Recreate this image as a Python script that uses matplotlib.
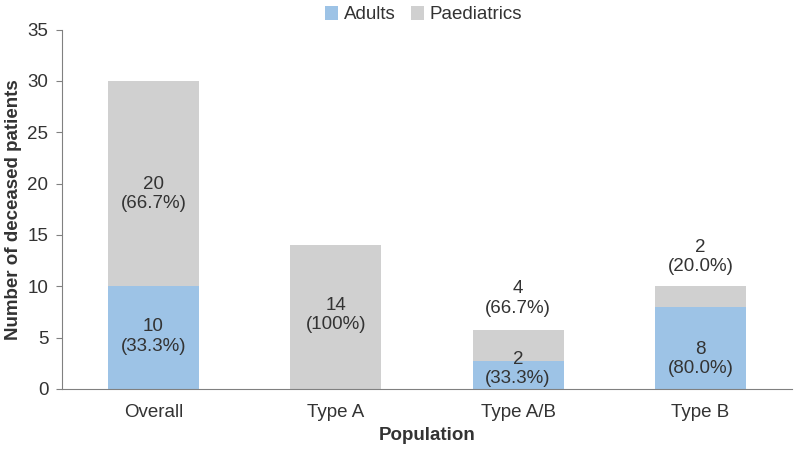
import matplotlib
matplotlib.use("Agg")
import matplotlib.pyplot as plt
from matplotlib import font_manager as fm

categories = ["Overall", "Type A", "Type A/B", "Type B"]
adults = [10, 0, 2.7, 8]          # bar heights as drawn
paediatrics = [20, 14, 3.05, 2]   # bar heights as drawn
adult_labels = ["10\n(33.3%)", None, "2\n(33.3%)", "8\n(80.0%)"]
paed_labels = ["20\n(66.7%)", "14\n(100%)", "4\n(66.7%)", "2\n(20.0%)"]
adult_label_y = [5.1, None, 1.95, 2.9]
paed_label_y = [19.0, 7.2, 8.8, 12.85]

names = {f.name for f in fm.fontManager.ttflist}
narrow = "Liberation Sans Narrow" if "Liberation Sans Narrow" in names else "Liberation Sans"

blue = "#9DC3E6"
grey = "#D0D0D0"
txt = "#333333"
fs = 13.5

fig = plt.figure(figsize=(7.98, 4.49), dpi=100)
ax = fig.add_axes([0.078, 0.134, 0.914, 0.8])

x = list(range(len(categories)))
b1 = ax.bar(x, adults, width=0.5, color=blue, label="Adults")
b2 = ax.bar(x, paediatrics, width=0.5, bottom=adults, color=grey, label="Paediatrics")

for i in x:
    if adult_labels[i]:
        ax.text(i, adult_label_y[i], adult_labels[i], ha="center", va="center",
                fontsize=fs, family=narrow, color=txt, linespacing=1.2)
    ax.text(i, paed_label_y[i], paed_labels[i], ha="center", va="center",
            fontsize=fs, family=narrow, color=txt, linespacing=1.2)

ax.set_xlim(-0.5, 3.5)
ax.set_ylim(0, 35)
ax.set_yticks(range(0, 36, 5))
ax.set_xticks(x)
ax.set_xticklabels(categories)
for lab in ax.get_xticklabels() + ax.get_yticklabels():
    lab.set_fontfamily(narrow)
    lab.set_fontsize(fs)
    lab.set_color(txt)
ax.tick_params(axis="x", length=0, pad=11)
ax.tick_params(axis="y", length=4, direction="out", color="#808080", pad=6)
for s in ["top", "right"]:
    ax.spines[s].set_visible(False)
ax.spines["left"].set_color("#808080")
ax.spines["bottom"].set_color("#808080")

ax.set_xlabel("Population", fontsize=13.5, fontweight="bold", family="Liberation Sans", color=txt, labelpad=4)
ax.set_ylabel("Number of deceased patients", fontsize=13.5, fontweight="bold", family="Liberation Sans", color=txt, labelpad=4)

leg = fig.legend(handles=[b1, b2], loc="upper center", bbox_to_anchor=(0.531, 1.025), ncol=2,
                 frameon=False, prop={"family": narrow, "size": fs}, handlelength=0.7,
                 handleheight=0.8, handletextpad=0.3, columnspacing=0.8)
for t in leg.get_texts():
    t.set_color(txt)

fig.savefig("out.png", dpi=100)
